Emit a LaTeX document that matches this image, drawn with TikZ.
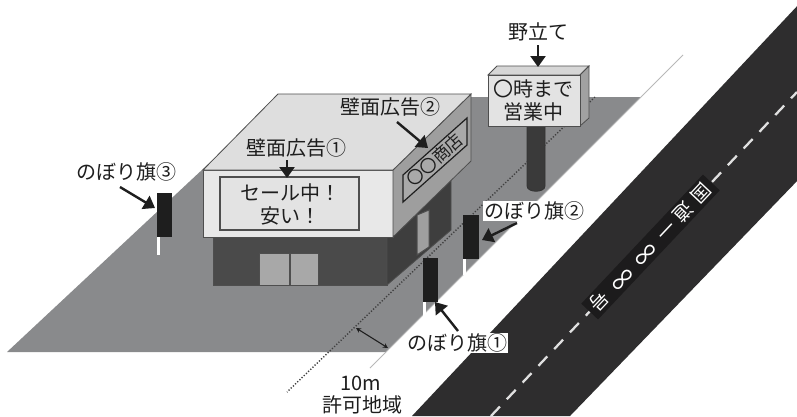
\documentclass[tikz,border=0pt]{standalone}
\usepackage{fontspec}
\newfontfamily\jp{Noto Sans CJK JP}
\usetikzlibrary{arrows.meta}

\definecolor{ground}{HTML}{898A8C}
\definecolor{roadgray}{HTML}{2E2D2E}
\definecolor{roadbox}{HTML}{1C1B1C}
\definecolor{rooftop}{HTML}{DEDEDE}
\definecolor{wallfront}{HTML}{E8E8E8}
\definecolor{wallside}{HTML}{9E9E9E}
\definecolor{panelside}{HTML}{A9A9A9}
\definecolor{signface}{HTML}{E3E3E3}
\definecolor{lowfront}{HTML}{4A4A4A}
\definecolor{lowside}{HTML}{3E3E3E}
\definecolor{doorgray}{HTML}{A8A8A8}
\definecolor{edge}{HTML}{4E4E4E}
\definecolor{ink}{HTML}{1E1E1E}
\definecolor{flagblack}{HTML}{1E1E1E}
\definecolor{postgray}{HTML}{3A3A3A}
\definecolor{boundary}{HTML}{B8B8B8}

\newcommand{\bigloop}{\scalebox{1.3}{∞}}

\tikzset{
  lbl/.style={font=\jp\fontsize{20pt}{23pt}\selectfont, text=ink, inner sep=1pt},
  whitelbl/.style={lbl, fill=white},
  pointer/.style={draw=ink, line width=2.4pt,
    -{Triangle[length=11pt,width=15pt]}},
  bedge/.style={draw=edge, line width=0.8pt},
  flagbody/.style={fill=flagblack},
  flagpole/.style={fill=white},
}

\begin{document}
\begin{tikzpicture}[x=1pt,y=-1pt]
\useasboundingbox (0,0) rectangle (797,416);
\fill[white] (0,0) rectangle (797,416);
\begin{scope}
\clip (0,0) rectangle (797,416);

% ground lot
\fill[ground] (7,352) -- (280,97) -- (641,97) -- (386,352) -- cycle;

% edge of the permitted zone and the setback line
\draw[boundary, line width=0.8pt] (683,55) -- (370,368);
\draw[black!75, line width=1.4pt, dash pattern=on 1.2pt off 1.8pt] (595,97) -- (287,392);

% national road
\fill[roadgray] (412,416) -- (800,3) -- (800,178) -- (570,416) -- cycle;
\draw[white!88!black, line width=2.3pt, dash pattern=on 13pt off 10pt] (491,416) -- (797,92);
\node[fill=roadbox, text=white, rotate=226.7, minimum height=23pt, inner xsep=5pt,
      inner ysep=2pt, font=\jp\fontsize{19pt}{19pt}\selectfont]
  (roadname) at (650.5,247)
  {国\hspace{7pt}道\hspace{7pt}一\hspace{9pt}\bigloop\hspace{10pt}\bigloop\hspace{9pt}号};
\end{scope}

% shop: ground floor
\filldraw[fill=lowfront, bedge] (213,237) rectangle (387,285);
\filldraw[fill=lowside, bedge] (387,237) -- (451,180) -- (451,230) -- (387,285) -- cycle;
\filldraw[fill=doorgray, draw=edge, line width=1pt] (259,253) rectangle (289,285);
\filldraw[fill=doorgray, draw=edge, line width=1pt] (290,253) rectangle (318,285);
\filldraw[fill=doorgray!110!white, draw=edge, line width=1pt]
  (417,215) -- (429,210) -- (429,247) -- (417,255) -- cycle;

% shop: upper floor and roof
\filldraw[fill=wallfront, bedge] (203,170) rectangle (393,237);
\filldraw[fill=wallside, bedge] (393,170) -- (471,94) -- (471,161) -- (393,237) -- cycle;
\filldraw[fill=rooftop, bedge] (203,170) -- (278,94) -- (471,94) -- (393,170) -- cycle;

% wall sign 1 on the front
\filldraw[fill=signface, draw=edge, line width=1.2pt] (220,177) rectangle (359,230);
\node[lbl, align=center, font=\jp\fontsize{20pt}{23pt}\selectfont] (wallsign1) at (290,204)
  {セール中！\\安い！};

% wall sign 2 on the side
\filldraw[fill=panelside, draw=ink, line width=1.2pt]
  (403,175) -- (467,118) -- (467,145) -- (403,202) -- cycle;
\node[lbl, rotate=41.7, inner sep=0pt, font=\jp\fontsize{17pt}{17pt}\selectfont] (wallsign2) at (435,160)
  {〇〇商店};

% free-standing sign
\filldraw[fill=postgray, draw=black!80, line width=0.8pt]
  (527,118) -- (527,186) .. controls (527,193) and (545,193) .. (545,186) -- (545,118) -- cycle;
\filldraw[fill=black!16, bedge] (488,75) -- (497,66) -- (589,66) -- (580,75) -- cycle;
\filldraw[fill=black!37, bedge] (580,75) -- (589,66) -- (589,118) -- (580,126) -- cycle;
\filldraw[fill=signface, draw=edge, line width=1pt] (488,75) rectangle (580,126);
\node[lbl, align=center] (standsign) at (533,100) {〇時まで\\営業中};

% banner flags
\fill[flagpole] (157,237) rectangle (160,255);
\fill[flagbody] (157,193) rectangle (172,237);
\node[inner sep=0, minimum width=15pt, minimum height=44pt] (flag3) at (164.5,215) {};
\fill[flagpole] (463,259) rectangle (466,275);
\fill[flagbody] (463,215) rectangle (479,259);
\node[inner sep=0, minimum width=16pt, minimum height=44pt] (flag2) at (471,237) {};
\fill[flagpole] (423,302) rectangle (426,318);
\fill[flagbody] (423,258) rectangle (438,302);
\node[inner sep=0, minimum width=15pt, minimum height=44pt] (flag1) at (430.5,280) {};

% labels
\node[lbl] (labstand) at (538,32) {野立て};
\node[lbl] (labwall2) at (390,107) {壁面広告②};
\node[lbl] (labwall1) at (296,148) {壁面広告①};
\node[lbl] (labflag3) at (126,172) {のぼり旗③};
\node[whitelbl] (labflag2) at (534,211) {のぼり旗②};
\node[whitelbl] (labflag1) at (457,343) {のぼり旗①};
\node[lbl] (labdist) at (361,383) {10m};
\node[lbl] (labzone) at (362,405) {許可地域};

% pointer ends
\coordinate (pStandA) at (538,45);  \coordinate (pStandB) at (538,67);
\coordinate (pW1A) at (287,160);    \coordinate (pW1B) at (287,178);
\coordinate (pW2A) at (397,122);    \coordinate (pW2B) at (428,148);
\coordinate (pF3A) at (120,187);    \coordinate (pF3B) at (155,208);
\coordinate (pF2A) at (517,223);    \coordinate (pF2B) at (482,240);
\coordinate (pF1A) at (458,331);    \coordinate (pF1B) at (435,302);
\coordinate (dimA) at (356,328);    \coordinate (dimB) at (388,348);

\draw[pointer] (pStandA) -- (pStandB);
\draw[pointer] (pW1A) -- (pW1B);
\draw[pointer] (pW2A) -- (pW2B);
\draw[pointer] (pF3A) -- (pF3B);
\draw[pointer] (pF2A) -- (pF2B);
\draw[pointer] (pF1A) -- (pF1B);
\draw[ink, line width=1.1pt, {Stealth[length=5pt,width=5pt]}-{Stealth[length=5pt,width=5pt]}]
  (dimA) -- (dimB);
\end{tikzpicture}
\end{document}
